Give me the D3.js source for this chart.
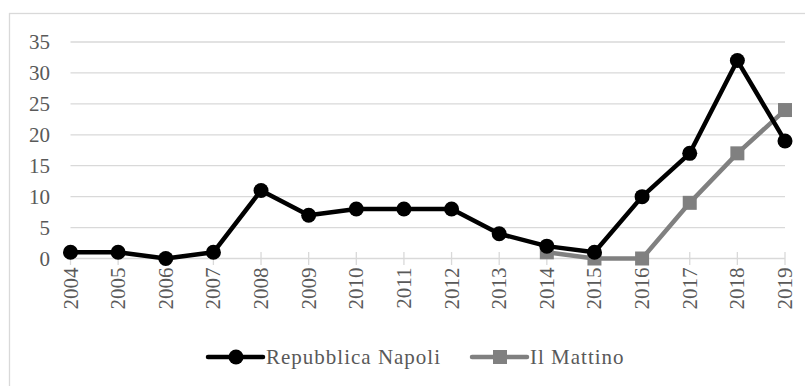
<!DOCTYPE html>
<html>
<head>
<meta charset="utf-8">
<script src="https://cdn.jsdelivr.net/npm/d3@7"></script>
<style>
  html, body { margin: 0; padding: 0; background: #fff; }
  svg { display: block; }
</style>
</head>
<body>
<svg id="chart"></svg>
<script>
// Data
const years = ["2004", "2005", "2006", "2007", "2008", "2009", "2010", "2011",
               "2012", "2013", "2014", "2015", "2016", "2017", "2018", "2019"];
const repubblica = [1, 1, 0, 1, 11, 7, 8, 8, 8, 4, 2, 1, 10, 17, 32, 19];
const mattinoYears = ["2014", "2015", "2016", "2017", "2018", "2019"];
const mattino = [1, 0, 0, 9, 17, 24];
const yTicks = [0, 5, 10, 15, 20, 25, 30, 35];

const width = 805, height = 386;
const font = "'Liberation Serif', 'DejaVu Serif', serif";
const textColor = "#595959";
const gridColor = "#d9d9d9";

const svg = d3.select("#chart")
    .attr("width", width)
    .attr("height", height);

// Outer chart border (runs off the right and bottom edges)
svg.append("rect")
    .attr("x", 9.5)
    .attr("y", 13.5)
    .attr("width", 820)
    .attr("height", 400)
    .attr("fill", "none")
    .attr("stroke", gridColor)
    .attr("stroke-width", 1.3);

const x = d3.scalePoint()
    .domain(years)
    .range([70.5, 785]);

const y = d3.scaleLinear()
    .domain([0, 35])
    .range([258.5, 42]);

// Gridlines
svg.append("g")
    .selectAll("line")
    .data(yTicks.slice(1))
    .enter()
    .append("line")
    .attr("x1", x.range()[0])
    .attr("x2", x.range()[1])
    .attr("y1", d => y(d))
    .attr("y2", d => y(d))
    .attr("stroke", gridColor)
    .attr("stroke-width", 1.3);

// Y axis labels
svg.append("g")
    .selectAll("text")
    .data(yTicks)
    .enter()
    .append("text")
    .attr("x", 50)
    .attr("y", d => y(d))
    .attr("dy", "0.35em")
    .attr("text-anchor", "end")
    .style("font-family", font)
    .style("font-size", "21px")
    .style("fill", textColor)
    .text(d => d);

// X axis with crossing ticks
const xAxis = svg.append("g");
xAxis.append("line")
    .attr("x1", x.range()[0])
    .attr("x2", x.range()[1])
    .attr("y1", y(0))
    .attr("y2", y(0))
    .attr("stroke", gridColor)
    .attr("stroke-width", 1.3);

xAxis.selectAll(".tick")
    .data(years)
    .enter()
    .append("line")
    .attr("class", "tick")
    .attr("x1", d => x(d))
    .attr("x2", d => x(d))
    .attr("y1", y(0) - 6.5)
    .attr("y2", y(0) + 6.5)
    .attr("stroke", gridColor)
    .attr("stroke-width", 1.3);

xAxis.selectAll("text")
    .data(years)
    .enter()
    .append("text")
    .attr("transform", d => `translate(${x(d) + 7},${y(0) + 9}) rotate(-90)`)
    .attr("text-anchor", "end")
    .style("font-family", font)
    .style("font-size", "21px")
    .style("fill", textColor)
    .text(d => d);

const line = d3.line()
    .x(d => x(d.year))
    .y(d => y(d.value));

const repData = years.map((yr, i) => ({ year: yr, value: repubblica[i] }));
const matData = mattinoYears.map((yr, i) => ({ year: yr, value: mattino[i] }));

// Il Mattino series (drawn first, under the black series)
svg.append("path")
    .datum(matData)
    .attr("d", line)
    .attr("fill", "none")
    .attr("stroke", "#808080")
    .attr("stroke-width", 4.5)
    .attr("stroke-linejoin", "round");

svg.append("g")
    .selectAll("rect")
    .data(matData)
    .enter()
    .append("rect")
    .attr("x", d => x(d.year) - 7)
    .attr("y", d => y(d.value) - 7)
    .attr("width", 14)
    .attr("height", 14)
    .attr("fill", "#808080");

// Repubblica Napoli series
svg.append("path")
    .datum(repData)
    .attr("d", line)
    .attr("fill", "none")
    .attr("stroke", "#000")
    .attr("stroke-width", 4.5)
    .attr("stroke-linejoin", "round");

svg.append("g")
    .selectAll("circle")
    .data(repData)
    .enter()
    .append("circle")
    .attr("cx", d => x(d.year))
    .attr("cy", d => y(d.value))
    .attr("r", 7.5)
    .attr("fill", "#000");

// Legend
const legendItems = [
    { name: "Repubblica Napoli", color: "#000", shape: "circle", x0: 208 },
    { name: "Il Mattino", color: "#808080", shape: "square", x0: 472 }
];
const ly = 357;

const lg = svg.append("g")
    .selectAll("g")
    .data(legendItems)
    .enter()
    .append("g")
    .attr("transform", d => `translate(${d.x0},${ly})`);

lg.append("line")
    .attr("x1", 0)
    .attr("x2", 55)
    .attr("stroke", d => d.color)
    .attr("stroke-width", 4.5)
    .attr("stroke-linecap", "round");

lg.filter(d => d.shape === "circle")
    .append("circle")
    .attr("cx", 28)
    .attr("r", 7.5)
    .attr("fill", d => d.color);

lg.filter(d => d.shape === "square")
    .append("rect")
    .attr("x", 21)
    .attr("y", -7)
    .attr("width", 14)
    .attr("height", 14)
    .attr("fill", d => d.color);

lg.append("text")
    .attr("x", 58)
    .attr("dy", "0.35em")
    .style("font-family", font)
    .style("font-size", "21px")
    .style("letter-spacing", "1px")
    .style("fill", textColor)
    .text(d => d.name);
</script>
</body>
</html>
